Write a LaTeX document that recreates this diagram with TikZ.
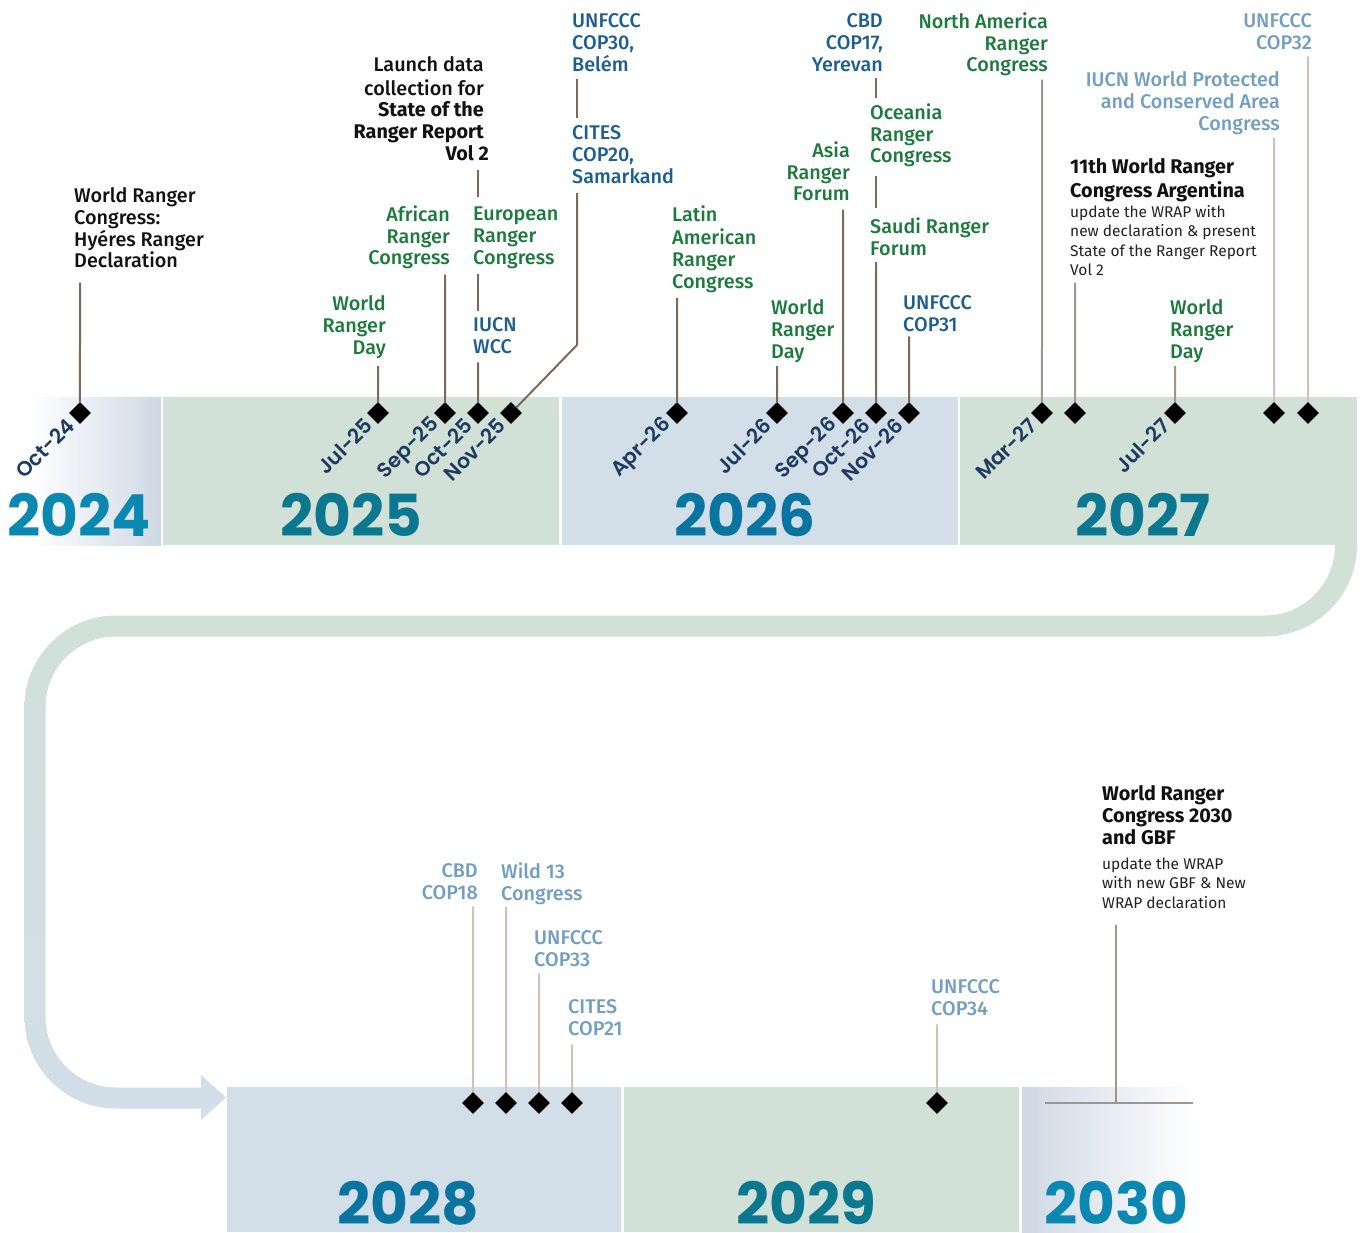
\documentclass[tikz,border=0pt]{standalone}
\usepackage{fontspec}
\setmainfont{Fira Sans}
\newfontfamily\labm{Fira Sans Medium}
\newfontfamily\labb{Fira Sans Bold}
\newfontfamily\datef{Poppins SemiBold}
\newfontfamily\yearf{Poppins Bold}
\definecolor{grn}{HTML}{1B7A3C}
\definecolor{dblue}{HTML}{1D5E90}
\definecolor{lblue}{HTML}{729EC1}
\definecolor{navy}{HTML}{1E3A5F}
\definecolor{yteal}{HTML}{0C7890}
\definecolor{yblue}{HTML}{0A74A0}
\definecolor{ybright}{HTML}{0A88B2}
\definecolor{bandg}{HTML}{D1E1D7}
\definecolor{bandb}{HTML}{D2DEE8}
\definecolor{bandc}{HTML}{CFD9E4}
\definecolor{stemd}{HTML}{7C6A58}
\definecolor{stemm}{HTML}{A0968F}
\definecolor{steml}{HTML}{CFC2BD}
\definecolor{ink}{HTML}{111111}
\definecolor{ink2}{HTML}{222222}
\tikzset{
  lbl/.style={inner sep=0pt, font=\labm\fontsize{19.8}{21.7}\selectfont},
  lr/.style={lbl, align=right, anchor=north east},
  ll/.style={lbl, align=left, anchor=north west},
  hb/.style={inner sep=0pt, align=left, anchor=north west, text=ink, font=\labb\fontsize{19.8}{21.7}\selectfont},
  desc/.style={inner sep=0pt, align=left, anchor=north west, text=ink2, font=\fontsize{15.5}{19.4}\selectfont},
  dlab/.style={inner sep=0pt, rotate=45, anchor=east, text=navy, font=\datef\fontsize{20.5}{20.5}\selectfont},
  yr/.style={inner sep=0pt, anchor=base, font=\yearf\fontsize{58}{58}\selectfont},
  dmd/.style={rectangle, fill=black, minimum size=15.5pt, inner sep=0pt, rotate=45},
  stm/.style={line width=2pt, draw=stemd},
  stmm/.style={line width=2pt, draw=stemm},
  stml/.style={line width=2pt, draw=steml}
}
\begin{document}
\begin{tikzpicture}[x=1pt,y=-1pt]
\useasboundingbox (0,0) rectangle (1364,1232);
\fill[white] (0,0) rectangle (1364,1232);

% loop band
\shade[top color=bandg, bottom color=bandb]
 (1357,545) .. controls (1357,595.5) and (1315.8,636.5) .. (1265,636.5)
 -- (116,636.5) .. controls (77.1,636.5) and (45.5,668.1) .. (45.5,707)
 -- (45.5,1017) .. controls (45.5,1055.9) and (77.1,1087.5) .. (116,1087.5)
 -- (201,1087.5) -- (201,1075) -- (226,1097.5) -- (201,1120) -- (201,1108.5)
 -- (116,1108.5) .. controls (65.5,1108.5) and (24.5,1067.5) .. (24.5,1017)
 -- (24.5,707) .. controls (24.5,656.5) and (65.5,615.5) .. (116,615.5)
 -- (1265,615.5) .. controls (1303.7,615.5) and (1335,583.9) .. (1335,545) -- cycle;

% year bands
\shade[left color=white, right color=bandc] (30,397) rectangle (161,545);
\fill[bandg] (163,397) rectangle (559,545);
\fill[bandb] (562,397) rectangle (958,545);
\fill[bandg] (960,397) rectangle (1357,545);
\fill[bandb] (227,1087) rectangle (621,1232);
\fill[bandg] (624,1087) rectangle (1019,1232);
\shade[left color=bandc, right color=white] (1022,1087) rectangle (1195,1232);

% years
\node[yr, text=ybright] (y24) at (79,536) {2024};
\node[yr, text=yteal] (y25) at (351,536) {2025};
\node[yr, text=yblue] (y26) at (745,536) {2026};
\node[yr, text=yteal] (y27) at (1143,536) {2027};
\node[yr, text=yblue] (y28) at (408,1224) {2028};
\node[yr, text=yteal] (y29) at (806,1224) {2029};
\node[yr, text=ybright] (y30) at (1116,1224) {2030};

% diamonds
\node[dmd] (o24) at (80,413) {};
\node[dmd] (j25) at (378,413) {};
\node[dmd] (s25) at (445,413) {};
\node[dmd] (oc25) at (478,413) {};
\node[dmd] (n25) at (511,413) {};
\node[dmd] (a26) at (677,413) {};
\node[dmd] (j26) at (777,413) {};
\node[dmd] (s26) at (843,413) {};
\node[dmd] (oc26) at (876,413) {};
\node[dmd] (n26) at (909,413) {};
\node[dmd] (m27) at (1042,413) {};
\node[dmd] (x27) at (1075,413) {};
\node[dmd] (j27) at (1175,413) {};
\node[dmd] (p27) at (1274,413) {};
\node[dmd] (q27) at (1308,413) {};
\node[dmd] (b1) at (473,1103) {};
\node[dmd] (b2) at (506,1103) {};
\node[dmd] (b3) at (539,1103) {};
\node[dmd] (b4) at (572,1103) {};
\node[dmd] (b5) at (937,1103) {};

% date labels
\node[dlab] (lo24) at ([xshift=-9pt,yshift=-9pt]o24.center) {Oct-24};
\node[dlab] (lj25) at ([xshift=-9pt,yshift=-9pt]j25.center) {Jul-25};
\node[dlab] (ls25) at ([xshift=-9pt,yshift=-9pt]s25.center) {Sep-25};
\node[dlab] (loc25) at ([xshift=-9pt,yshift=-9pt]oc25.center) {Oct-25};
\node[dlab] (ln25) at ([xshift=-9pt,yshift=-9pt]n25.center) {Nov-25};
\node[dlab] (la26) at ([xshift=-9pt,yshift=-9pt]a26.center) {Apr-26};
\node[dlab] (lj26) at ([xshift=-9pt,yshift=-9pt]j26.center) {Jul-26};
\node[dlab] (ls26) at ([xshift=-9pt,yshift=-9pt]s26.center) {Sep-26};
\node[dlab] (loc26) at ([xshift=-9pt,yshift=-9pt]oc26.center) {Oct-26};
\node[dlab] (ln26) at ([xshift=-9pt,yshift=-9pt]n26.center) {Nov-26};
\node[dlab] (lm27) at ([xshift=-9pt,yshift=-9pt]m27.center) {Mar-27};
\node[dlab] (lj27) at ([xshift=-9pt,yshift=-9pt]j27.center) {Jul-27};

% event labels (top)
\node[ll, text=ink] (wrc24) at (74,187.5) {\strut World Ranger\\Congress:\\Hyéres Ranger\\Declaration\strut};
\node[lr, text=grn] (wrd25) at (386,295.5) {\strut World\\Ranger\\Day\strut};
\node[lr, text=grn] (afr) at (450,205.5) {\strut African\\Ranger\\Congress\strut};
\node[ll, text=grn] (eur) at (473,205.5) {\strut European\\Ranger\\Congress\strut};
\node[lr, text=ink] (launch) at (484,56.5) {\strut Launch data\\collection for\\{\labb State of the}\\{\labb Ranger Report}\\{\labb Vol 2}\hspace*{-5pt}\strut};
\node[ll, text=dblue] (iucn) at (473,316.5) {\strut IUCN\\WCC\strut};
\node[ll, text=dblue] (cop30) at (572,12.5) {\strut UNFCCC\\COP30,\\Belém\strut};
\node[ll, text=dblue] (cites20) at (572,124.5) {\strut CITES\\COP20,\\Samarkand\strut};
\node[ll, text=grn] (latin) at (672,205.5) {\strut Latin\\American\\Ranger\\Congress\strut};
\node[ll, text=grn] (wrd26) at (771,299.5) {\strut World\\Ranger\\Day\strut};
\node[lr, text=grn] (asia) at (850,141.5) {\strut Asia\\Ranger\\Forum\strut};
\node[lr, text=dblue] (cop17) at (883,12.5) {\strut CBD\\COP17,\\Yerevan\strut};
\node[ll, text=grn] (oce) at (870,103.5) {\strut Oceania\\Ranger\\Congress\strut};
\node[ll, text=grn] (saudi) at (870,217.5) {\strut Saudi Ranger\\Forum\strut};
\node[ll, text=dblue] (cop31) at (903,294.5) {\strut UNFCCC\\COP31\strut};
\node[lr, text=grn] (nam) at (1048,12.5) {\strut North America\\Ranger\\Congress\strut};
\node[lr, text=lblue] (cop32) at (1312,12.5) {\strut UNFCCC\\COP32\strut};
\node[lr, text=lblue] (wpca) at (1280,71.5) {\strut IUCN World Protected\\and Conserved Area\\Congress\strut};
\node[hb] (wrc27h) at (1070,158.5) {\strut 11th World Ranger\\Congress Argentina\strut};
\node[desc] (wrc27d) at (1070,203.6) {\strut update the WRAP with\\new declaration \& present\\State of the Ranger Report\\Vol 2\strut};
\node[ll, text=grn] (wrd27) at (1170,299.5) {\strut World\\Ranger\\Day\strut};

% event labels (bottom)
\node[lr, text=lblue] (cop18) at (478,862.5) {\strut CBD\\COP18\strut};
\node[ll, text=lblue] (wild) at (501,862.5) {\strut Wild 13\\Congress\strut};
\node[ll, text=lblue] (cop33) at (534,929.5) {\strut UNFCCC\\COP33\strut};
\node[ll, text=lblue] (cites21) at (568,998.5) {\strut CITES\\COP21\strut};
\node[ll, text=lblue] (cop34) at (931,978.5) {\strut UNFCCC\\COP34\strut};
\node[hb] (wrc30h) at (1102,785.5) {\strut World Ranger\\Congress 2030\\and GBF\strut};
\node[desc] (wrc30d) at (1102,855.6) {\strut update the WRAP\\with new GBF \& New\\WRAP declaration\strut};

% stems
\coordinate (bend25) at (577,345);
\coordinate (t30) at (1116,1103);
\coordinate (h30a) at (1045,1103);
\coordinate (h30b) at (1193,1103);

\draw[stm] ([yshift=-8pt]wrc24.south -| o24) -- (o24);
\draw[stm] ([yshift=-5pt]wrd25.south -| j25) -- (j25);
\draw[stm] ([yshift=-3pt]afr.south -| s25) -- (s25);
\draw[stm] ([yshift=-3pt]launch.south -| oc25) -- ([yshift=8.5pt]eur.north -| oc25);
\draw[stm] ([yshift=-3pt]eur.south -| oc25) -- ([yshift=5.5pt]iucn.north -| oc25);
\draw[stm] ([yshift=-2pt]iucn.south -| oc25) -- (oc25);
\draw[stm] ([yshift=-1pt]cop30.south -| bend25) -- ([yshift=6.5pt]cites20.north -| bend25);
\draw[stm] ([yshift=-3pt]cites20.south -| bend25) -- (bend25) -- (n25);
\draw[stm] ([yshift=-3pt]latin.south -| a26) -- (a26);
\draw[stm] ([yshift=-1pt]wrd26.south -| j26) -- (j26);
\draw[stm] ([yshift=-2pt]asia.south -| s26) -- (s26);
\draw[stm] (cop17.south -| oc26) -- ([yshift=5.5pt]oce.north -| oc26);
\draw[stm] ([yshift=-6pt]oce.south -| oc26) -- ([yshift=9.5pt]saudi.north -| oc26);
\draw[stm] (saudi.south -| oc26) -- (oc26);
\draw[stm] ([yshift=2pt]cop31.south -| n26) -- (n26);
\draw[stmm] ([yshift=-1pt]nam.south -| m27) -- (m27);
\draw[stmm] ([yshift=-1pt]wrc27d.south -| x27) -- (x27);
\draw[stmm] ([yshift=-1pt]wrd27.south -| j27) -- (j27);
\draw[stml] ([yshift=-1pt]wpca.south -| p27) -- (p27);
\draw[stml] (cop32.south -| q27) -- (q27);
\draw[stml] (cop18.south -| b1) -- (b1);
\draw[stml] (wild.south -| b2) -- (b2);
\draw[stml] (cop33.south -| b3) -- (b3);
\draw[stml] ([yshift=-2pt]cites21.south -| b4) -- (b4);
\draw[stml] ([yshift=-2pt]cop34.south -| b5) -- (b5);
\draw[stmm] ([yshift=-11pt]wrc30d.south -| t30) -- (t30);
\draw[stmm] (h30a) -- (h30b);
\end{tikzpicture}
\end{document}
